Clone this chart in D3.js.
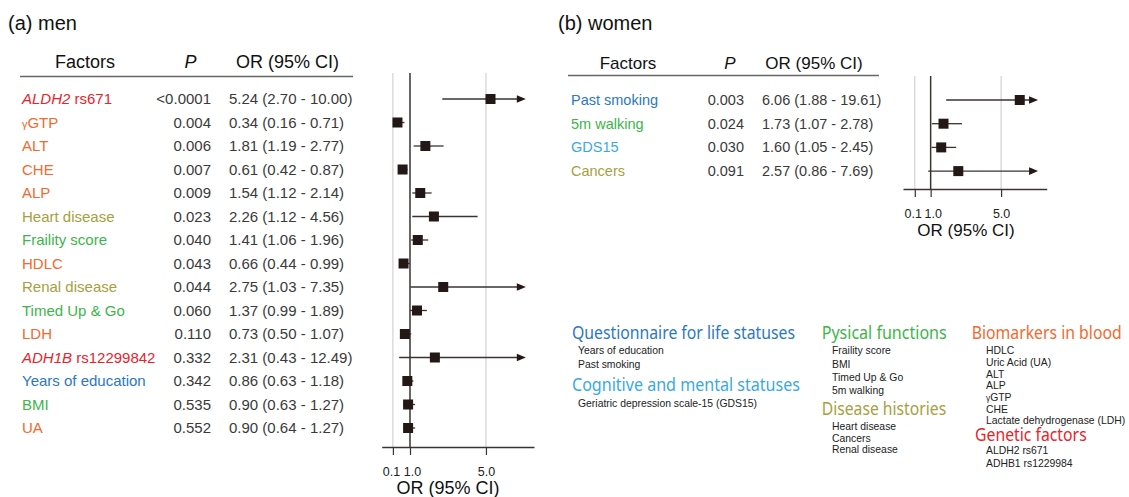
<!DOCTYPE html>
<html>
<head>
<meta charset="utf-8">
<script src="https://cdn.jsdelivr.net/npm/d3@7"></script>
<style>
  html, body { margin: 0; padding: 0; background: #ffffff; }
  svg { display: block; }
  text { font-family: "Liberation Sans", Arial, Helvetica, sans-serif; }
  .legend-head { font-family: "Noto Sans", "Open Sans", sans-serif; }
</style>
</head>
<body>
<svg id="chart" width="1129" height="497"></svg>
<script>
// ---------------- DATA ----------------
const menFactors = ["ALDH2 rs671", "γGTP", "ALT", "CHE", "ALP", "Heart disease", "Fraility score", "HDLC",
  "Renal disease", "Timed Up & Go", "LDH", "ADH1B rs12299842", "Years of education", "BMI", "UA"];
const menGroups = ["genetic", "bio", "bio", "bio", "bio", "disease", "physical", "bio",
  "disease", "physical", "bio", "genetic", "questionnaire", "physical", "bio"];
const menP = ["<0.0001", "0.004", "0.006", "0.007", "0.009", "0.023", "0.040", "0.043",
  "0.044", "0.060", "0.110", "0.332", "0.342", "0.535", "0.552"];
const menOR = [5.24, 0.34, 1.81, 0.61, 1.54, 2.26, 1.41, 0.66, 2.75, 1.37, 0.73, 2.31, 0.86, 0.90, 0.90];
const menLo = [2.70, 0.16, 1.19, 0.42, 1.12, 1.12, 1.06, 0.44, 1.03, 0.99, 0.50, 0.43, 0.63, 0.63, 0.64];
const menHi = [10.00, 0.71, 2.77, 0.87, 2.14, 4.56, 1.96, 0.99, 7.35, 1.89, 1.07, 12.49, 1.18, 1.27, 1.27];

const womenFactors = ["Past smoking", "5m walking", "GDS15", "Cancers"];
const womenGroups = ["questionnaire", "physical", "cognitive", "disease"];
const womenP = ["0.003", "0.024", "0.030", "0.091"];
const womenOR = [6.06, 1.73, 1.60, 2.57];
const womenLo = [1.88, 1.07, 1.05, 0.86];
const womenHi = [19.61, 2.78, 2.45, 7.69];

const axisTicks = [0.1, 1.0, 5.0];
const axisMax = 7.1; // CIs beyond this value are drawn as arrows

const groupKeys = ["questionnaire", "cognitive", "physical", "disease", "bio", "genetic"];
const legendHeadings = ["Questionnaire for life statuses", "Cognitive and mental statuses", "Pysical functions",
  "Disease histories", "Biomarkers in blood", "Genetic factors"];
const legendItems = [
  ["Years of education", "Past smoking"],
  ["Geriatric depression scale-15 (GDS15)"],
  ["Fraility score", "BMI", "Timed Up & Go", "5m walking"],
  ["Heart disease", "Cancers", "Renal disease"],
  ["HDLC", "Uric Acid (UA)", "ALT", "ALP", "γGTP", "CHE", "Lactate dehydrogenase (LDH)"],
  ["ALDH2 rs671", "ADHB1 rs1229984"]
];

// ---------------- STYLE ----------------
const color = d3.scaleOrdinal()
  .domain(groupKeys)
  .range(["#2b78c4", "#3aa9e3", "#3db54a", "#a7a040", "#f26a2e", "#e8232b"]);
const ink = "#3a3330";
const textDark = "#3a3a3a";

const svg = d3.select("#chart");

// Factor label renderer (italic gene names, small gamma)
function factorLabel(sel, name, group) {
  if (group === "genetic") {
    const sp = name.indexOf(" ");
    sel.append("tspan").attr("font-style", "italic").text(name.slice(0, sp));
    sel.append("tspan").text(name.slice(sp));
  } else if (name.startsWith("γ")) {
    sel.append("tspan").attr("font-size", "0.72em").text("γ");
    sel.append("tspan").text(name.slice(1));
  } else {
    sel.text(name);
  }
}

function panel(cfg) {
  const g = svg.append("g");
  // title
  g.append("text").attr("x", cfg.titleX).attr("y", 30)
    .attr("font-size", 20).attr("fill", "#111").text(cfg.title);

  // headers
  const hs = cfg.headSize;
  g.append("text").attr("x", cfg.hFactX).attr("y", cfg.headY).attr("text-anchor", "middle")
    .attr("font-size", hs).attr("fill", "#111").text("Factors");
  g.append("text").attr("x", cfg.hPX).attr("y", cfg.headY).attr("text-anchor", "middle")
    .attr("font-size", hs).attr("font-style", "italic").attr("fill", "#111").text("P");
  g.append("text").attr("x", cfg.hORX).attr("y", cfg.headY).attr("text-anchor", "middle")
    .attr("font-size", hs).attr("fill", "#111").text("OR (95% CI)");
  g.append("line").attr("x1", cfg.lineX1).attr("x2", cfg.lineX2)
    .attr("y1", cfg.lineY).attr("y2", cfg.lineY)
    .attr("stroke", "#666").attr("stroke-width", 1.5);

  const n = cfg.factors.length;
  const y = d3.scaleLinear().domain([0, n - 1]).range([cfg.row0, cfg.row0 + (n - 1) * cfg.rowStep]);
  const rows = d3.range(n);

  // table text
  rows.forEach(i => {
    const t = g.append("text").attr("x", cfg.nameX).attr("y", y(i) + cfg.baseOff)
      .attr("font-size", cfg.rowSize).attr("fill", color(cfg.groups[i]));
    factorLabel(t, cfg.factors[i], cfg.groups[i]);
    g.append("text").attr("x", cfg.pRight).attr("y", y(i) + cfg.baseOff).attr("text-anchor", "end")
      .attr("font-size", cfg.rowSize).attr("fill", textDark).text(cfg.p[i]);
    g.append("text").attr("x", cfg.orLeft).attr("y", y(i) + cfg.baseOff)
      .attr("font-size", cfg.rowSize).attr("fill", textDark)
      .text(`${cfg.or[i].toFixed(2)} (${cfg.lo[i].toFixed(2)} - ${cfg.hi[i].toFixed(2)})`);
  });

  // forest plot
  const x = d3.scaleLinear().domain(cfg.xDomain).range(cfg.xRange);
  // gridlines
  axisTicks.forEach(v => {
    g.append("line").attr("x1", x(v)).attr("x2", x(v)).attr("y1", cfg.plotTop).attr("y2", cfg.axisY)
      .attr("stroke", v === 1 ? ink : "#c9c9c9").attr("stroke-width", v === 1 ? 1.5 : 1);
  });
  // axis
  const ax = g.append("g").attr("transform", `translate(0,${cfg.axisY})`)
    .call(d3.axisBottom(x).tickValues(axisTicks).tickFormat(d3.format(".1f"))
      .tickSize(8).tickSizeOuter(0).tickPadding(12));
  ax.select(".domain").attr("stroke", ink).attr("stroke-width", 1.5);
  ax.selectAll(".tick line").attr("stroke", ink).attr("stroke-width", 1.2);
  ax.selectAll(".tick text").attr("font-size", 12.5).attr("fill", "#222")
    .attr("font-family", "Liberation Sans, Arial, sans-serif");
  ax.selectAll(".tick").filter(d => d === 0.1).select("text").attr("dx", -2);
  ax.selectAll(".tick").filter(d => d === 1).select("text").attr("dx", 2);
  g.append("text").attr("x", cfg.axTitleX).attr("y", cfg.axTitleY).attr("text-anchor", "middle")
    .attr("font-size", cfg.axTitleSize).attr("fill", "#111").text("OR (95% CI)");

  // CIs
  rows.forEach(i => {
    const hiClip = Math.min(cfg.hi[i], axisMax);
    const arrow = cfg.hi[i] > axisMax;
    g.append("line").attr("x1", x(cfg.lo[i])).attr("x2", arrow ? x(hiClip) - 6 : x(hiClip))
      .attr("y1", y(i)).attr("y2", y(i))
      .attr("stroke", ink).attr("stroke-width", 1.3);
    if (arrow) {
      const tx = x(hiClip);
      g.append("path")
        .attr("d", `M${tx},${y(i)} L${tx - 9},${y(i) - 3.8} L${tx - 9},${y(i) + 3.8} Z`)
        .attr("fill", "#231815");
    }
    g.append("rect").attr("x", x(cfg.or[i]) - 5).attr("y", y(i) - 5)
      .attr("width", 10).attr("height", 10).attr("fill", "#231815");
  });
}

panel({
  title: "(a) men", titleX: 8,
  factors: menFactors, groups: menGroups, p: menP, or: menOR, lo: menLo, hi: menHi,
  headY: 68, headSize: 18, hFactX: 85, hPX: 190.5, hORX: 287.5,
  lineX1: 20, lineX2: 353, lineY: 76.5,
  row0: 99, rowStep: 23.5, baseOff: 5, rowSize: 15,
  nameX: 22, pRight: 211, orLeft: 229,
  xDomain: [-0.49, 7.53], xRange: [381.7, 534],
  plotTop: 73, axisY: 447,
  axTitleX: 448, axTitleY: 494, axTitleSize: 18
});

panel({
  title: "(b) women", titleX: 558,
  factors: womenFactors, groups: womenGroups, p: womenP, or: womenOR, lo: womenLo, hi: womenHi,
  headY: 68.5, headSize: 17, hFactX: 628, hPX: 730, hORX: 814,
  lineX1: 568, lineX2: 879, lineY: 75.5,
  row0: 100, rowStep: 23.7, baseOff: 5, rowSize: 14.5,
  nameX: 571, pRight: 744, orLeft: 762,
  xDomain: [-0.57, 7.59], xRange: [903, 1046.7],
  plotTop: 76, axisY: 189,
  axTitleX: 966, axTitleY: 236, axTitleSize: 17
});

// ---------------- LEGEND ----------------
const legendLayout = [
  { hx: 572, hy: 339.3, ix: 578, iy: 354.3, step: 13.4, w: 223 },
  { hx: 572, hy: 391, ix: 578, iy: 406.7, step: 13.4, w: 228 },
  { hx: 821.7, hy: 339.3, ix: 832, iy: 354.3, step: 13.3, w: 125 },
  { hx: 821.7, hy: 415, ix: 832, iy: 430, step: 11.7, w: 124.5 },
  { hx: 971.7, hy: 339.3, ix: 986, iy: 354.3, step: 11.67, w: 150 },
  { hx: 975, hy: 440.7, ix: 986, iy: 454, step: 12.7, w: 111.7 }
];
const lg = svg.append("g");
legendHeadings.forEach((h, k) => {
  const L = legendLayout[k];
  lg.append("text").attr("class", "legend-head").attr("x", L.hx).attr("y", L.hy)
    .attr("font-size", 18).attr("fill", color(groupKeys[k]))
    .attr("textLength", L.w).attr("lengthAdjust", "spacingAndGlyphs").text(h);
  legendItems[k].forEach((it, j) => {
    const t = lg.append("text").attr("x", L.ix).attr("y", L.iy + j * L.step)
      .attr("font-size", 10.4).attr("fill", "#222");
    if (it.startsWith("γ")) {
      t.append("tspan").attr("font-size", "0.8em").text("γ");
      t.append("tspan").text(it.slice(1));
    } else t.text(it);
  });
});
</script>
</body>
</html>
